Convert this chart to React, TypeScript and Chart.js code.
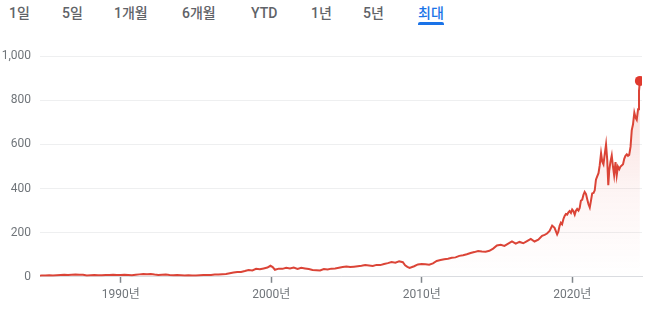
import React, { useEffect, useRef } from "react";
import { Chart, registerables } from "chart.js";

Chart.register(...registerables);

const TABS = ["1일", "5일", "1개월", "6개월", "YTD", "1년", "5년", "최대"];
const ACTIVE_TAB = "최대";
const TAB_LEFT = [9, 62, 114, 182, 251, 311, 363, 418];

const Y_TICKS = [0, 200, 400, 600, 800, 1000];
const X_TICKS = [1990, 2000, 2010, 2020];

// time (decimal years)
const YEARS = [
  1984.64, 1984.75, 1985.0, 1985.25, 1985.5, 1985.75,
  1986.0, 1986.25, 1986.5, 1986.75, 1987.0, 1987.25, 1987.5, 1987.75,
  1988.0, 1988.25, 1988.5, 1988.75, 1989.0, 1989.25, 1989.5, 1989.75,
  1990.0, 1990.25, 1990.5, 1990.75, 1991.0, 1991.25, 1991.5, 1991.75,
  1992.0, 1992.25, 1992.5, 1992.75, 1993.0, 1993.25, 1993.5, 1993.75,
  1994.0, 1994.25, 1994.5, 1994.75, 1995.0, 1995.25, 1995.5, 1995.75,
  1996.0, 1996.25, 1996.5, 1996.75, 1997.0, 1997.25, 1997.5, 1997.75,
  1998.0, 1998.25, 1998.5, 1998.75, 1999.0, 1999.25, 1999.5, 1999.75,
  1999.95, 2000.1, 2000.25, 2000.5, 2000.75,
  2001.0, 2001.25, 2001.5, 2001.75, 2002.0, 2002.25, 2002.5, 2002.75,
  2003.0, 2003.25, 2003.5, 2003.75, 2004.0, 2004.25, 2004.5, 2004.75,
  2005.0, 2005.25, 2005.5, 2005.75, 2006.0, 2006.25, 2006.5, 2006.75,
  2007.0, 2007.25, 2007.5, 2007.75, 2008.0, 2008.25, 2008.5, 2008.75,
  2008.9, 2009.05, 2009.2, 2009.5, 2009.75,
  2010.0, 2010.25, 2010.5, 2010.75, 2011.0, 2011.25, 2011.5, 2011.75,
  2012.0, 2012.25, 2012.5, 2012.75, 2013.0, 2013.25, 2013.5, 2013.75,
  2014.0, 2014.25, 2014.5, 2014.75, 2015.0, 2015.25, 2015.5, 2015.75,
  2016.0, 2016.25, 2016.5, 2016.75, 2017.0, 2017.25, 2017.5, 2017.75,
  2018.0, 2018.17, 2018.33, 2018.5, 2018.67, 2018.83, 2019.0, 2019.08,
  2019.17, 2019.25, 2019.33, 2019.42, 2019.5, 2019.58, 2019.67, 2019.75,
  2019.83, 2019.92, 2020.0, 2020.08, 2020.17, 2020.25, 2020.33, 2020.42,
  2020.5, 2020.58, 2020.67, 2020.75, 2020.83, 2020.92, 2021.0, 2021.08,
  2021.17, 2021.25, 2021.33, 2021.42, 2021.5, 2021.58, 2021.67, 2021.75,
  2021.83, 2021.92, 2022.0, 2022.08, 2022.17, 2022.25, 2022.33, 2022.4,
  2022.46, 2022.54, 2022.63, 2022.71, 2022.79, 2022.88, 2022.96, 2023.04,
  2023.13, 2023.21, 2023.29, 2023.38, 2023.46, 2023.54, 2023.63, 2023.71,
  2023.79, 2023.88, 2023.96, 2024.04, 2024.13, 2024.21, 2024.29, 2024.38,
  2024.44, 2024.5,
];

// closing price
const PRICES = [
  5, 6, 6, 7, 6, 7,
  8, 9, 8, 9, 10, 9, 9, 6,
  7, 8, 7, 7, 8, 8, 9, 8,
  8, 9, 8, 7, 9, 11, 13, 12,
  13, 10, 8, 9, 10, 8, 7, 8,
  7, 6, 7, 6, 6, 7, 8, 8,
  8, 10, 10, 12, 13, 16, 19, 22,
  22, 26, 31, 29, 36, 34, 38, 42,
  50, 44, 32, 37, 36,
  41, 38, 42, 36, 41, 38, 35, 31,
  30, 29, 35, 33, 37, 38, 41, 44,
  47, 44, 46, 48, 50, 53, 51, 49,
  54, 53, 58, 62, 67, 64, 70, 66,
  52, 45, 40, 48, 56,
  58, 57, 55, 61, 72, 76, 80, 82,
  86, 88, 95, 98, 102, 108, 112, 117,
  115, 114, 118, 128, 142, 145, 140, 150,
  160, 150, 158, 152, 162, 172, 160, 168,
  186, 190, 196, 208, 232, 222, 192, 205,
  232, 245, 238, 262, 276, 285, 282, 292,
  298, 290, 305, 298, 282, 300, 308, 300,
  312, 345, 350, 372, 385, 375, 352, 330,
  314, 345, 378, 380, 392, 440, 456, 470,
  505, 560, 522, 510, 560, 600, 530, 415,
  480, 520, 550, 500, 460, 520, 460, 500,
  488, 500, 505, 510, 535, 548, 555, 548,
  552, 590, 665, 690, 744, 722, 712, 760,
  842, 888,
];

const LINE_COLOR = "#db4437";
const DOT_COLOR = "#e0392e";
const LABEL_COLOR = "#70757a";
const FONT = "Roboto, 'Noto Sans CJK KR', sans-serif";

export default function App() {
  const canvasRef = useRef<HTMLCanvasElement | null>(null);

  useEffect(() => {
    if (!canvasRef.current) return;
    const points = YEARS.map((x, i) => ({ x, y: PRICES[i] }));
    const lastIndex = points.length - 1;
    const chart = new Chart(canvasRef.current, {
      type: "line",
      data: {
        datasets: [
          {
            data: points,
            borderColor: LINE_COLOR,
            borderWidth: 2,
            tension: 0,
            fill: "origin",
            backgroundColor: (ctx: any) => {
              const c = ctx.chart;
              const area = c.chartArea;
              if (!area) return "rgba(0,0,0,0)";
              const g = c.ctx.createLinearGradient(0, area.top, 0, area.bottom);
              g.addColorStop(0, "rgba(226,73,62,0.24)");
              g.addColorStop(0.6, "rgba(226,73,62,0.06)");
              g.addColorStop(1, "rgba(226,73,62,0)");
              return g;
            },
            pointRadius: (ctx: any) => (ctx.dataIndex === lastIndex ? 5 : 0),
            pointBackgroundColor: DOT_COLOR,
            pointBorderColor: DOT_COLOR,
            pointBorderWidth: 0,
            pointHoverRadius: 0,
          },
        ],
      },
      options: {
        animation: false,
        responsive: false,
        events: [],
        layout: { padding: { left: 0, right: 14, top: 13.3, bottom: 0 } },
        plugins: { legend: { display: false }, tooltip: { enabled: false } },
        scales: {
          x: {
            type: "linear",
            min: 1984.64,
            max: 2024.64,
            afterFit: (s: any) => {
              s.height = 36.2;
            },
            afterBuildTicks: (s: any) => {
              s.ticks = X_TICKS.map((v) => ({ value: v }));
            },
            border: { display: true, color: "#dadce0", width: 1 },
            grid: {
              display: true,
              drawOnChartArea: false,
              drawTicks: true,
              tickLength: 6,
              tickColor: "#80868b",
              tickWidth: 1.5,
            },
            ticks: {
              autoSkip: false,
              maxRotation: 0,
              padding: 5,
              color: LABEL_COLOR,
              font: { family: FONT, size: 12 },
              callback: (v: any) => `${v}년`,
            },
          },
          y: {
            min: 0,
            max: 1000,
            afterFit: (s: any) => {
              s.width = 40;
            },
            afterBuildTicks: (s: any) => {
              s.ticks = Y_TICKS.map((v) => ({ value: v }));
            },
            border: { display: false },
            grid: { color: "#eeeff0", lineWidth: 1, drawTicks: false },
            ticks: {
              padding: 9,
              color: LABEL_COLOR,
              font: { family: FONT, size: 12 },
              callback: (v: any) => Number(v).toLocaleString("en-US"),
            },
          },
        },
      },
    });
    return () => chart.destroy();
  }, []);

  return (
    <div
      style={{
        position: "absolute",
        left: 0,
        top: 0,
        width: 656,
        height: 313,
        background: "#fff",
        overflow: "hidden",
        fontFamily: FONT,
      }}
    >
      {TABS.map((t, i) => (
        <div
          key={t}
          style={{
            position: "absolute",
            left: TAB_LEFT[i],
            top: 6,
            fontSize: 14,
            lineHeight: "14px",
            fontWeight: 500,
            color: t === ACTIVE_TAB ? "#1a73e8" : "#5f6368",
            whiteSpace: "nowrap",
          }}
        >
          {t}
        </div>
      ))}
      <div
        style={{
          position: "absolute",
          left: 418,
          top: 22,
          width: 26,
          height: 3,
          background: "#1a73e8",
          borderRadius: "2px 2px 0 0",
        }}
      />
      <canvas
        ref={canvasRef}
        width={656}
        height={273}
        style={{ position: "absolute", left: 0, top: 40, width: 656, height: 273 }}
      />
    </div>
  );
}
